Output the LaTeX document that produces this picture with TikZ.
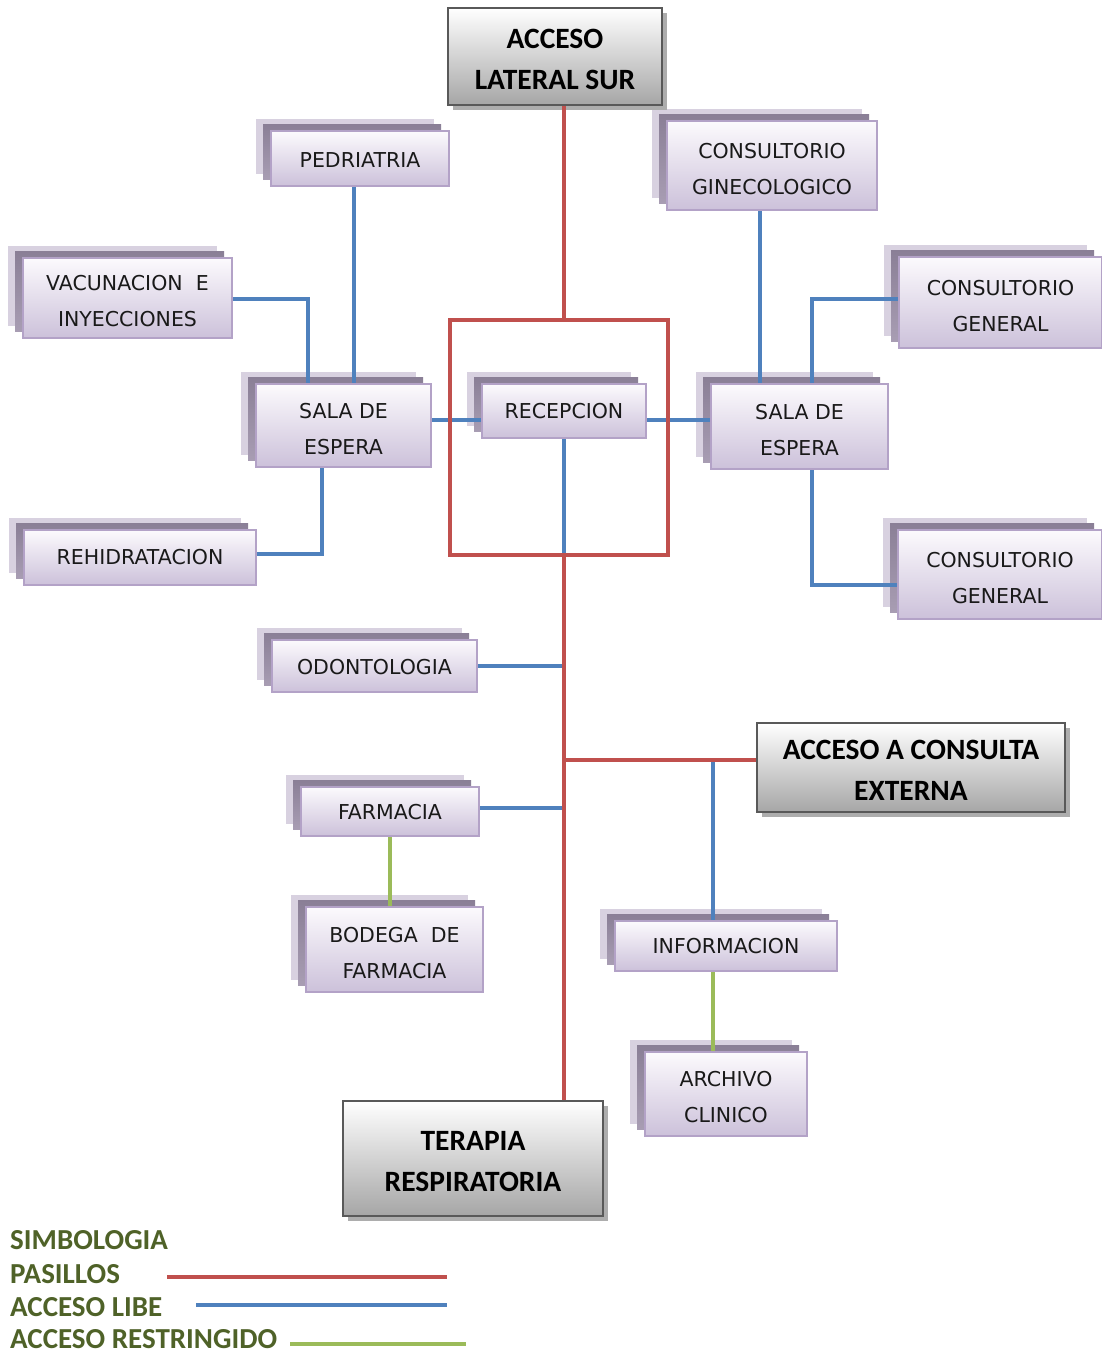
\documentclass[tikz,border=0pt]{standalone}
\usepackage{fontspec}
\setmainfont{DejaVu Sans}
\newfontfamily\calib{Carlito}
\usetikzlibrary{calc}
\pgfdeclarelayer{bgl}
\pgfdeclarelayer{shd}
\pgfdeclarelayer{ln}
\pgfsetlayers{bgl,shd,ln,main}

\definecolor{redln}{HTML}{C0504D}
\definecolor{blueln}{HTML}{4F81BD}
\definecolor{greenln}{HTML}{9BBB59}
\definecolor{pborder}{HTML}{B3A2C7}
\definecolor{ptop}{HTML}{FCFAFD}
\definecolor{pbot}{HTML}{CCC1DA}
\definecolor{shl}{HTML}{D8D1E0}
\definecolor{shdA}{HTML}{8A7F96}
\definecolor{shdB}{HTML}{A89DB3}
\definecolor{olive}{HTML}{4F6228}

\newcommand\ptop{\rule{0pt}{22pt}}
\newcommand\gtop{\rule{0pt}{25pt}}

\tikzset{
  pbox/.style={draw=pborder, line width=1.5pt, top color=ptop, bottom color=pbot,
    inner sep=0pt, align=center, font=\fontsize{20.5}{36}\selectfont, text=black!90},
  gbox/.style={draw=black!65, line width=2.5pt, top color=white, bottom color=black!35,
    inner sep=0pt, align=center, font=\calib\bfseries\fontsize{29.5}{41}\selectfont},
  pas/.style={draw=redln, line width=4pt},
  lib/.style={draw=blueln, line width=4pt},
  res/.style={draw=greenln, line width=4pt},
  legtext/.style={anchor=base west, inner sep=0pt, text=olive,
    font=\calib\bfseries\fontsize{29}{30}\selectfont},
}

\newcommand\mkpbox[6]{%
  \begin{pgfonlayer}{shd}
    \fill[shl] (#2-15,#3-12) rectangle (#4-15,#5-12);
    \fill[top color=shdA, bottom color=shdB] (#2-8,#3-7) rectangle (#4-8,#5-7);
  \end{pgfonlayer}
  \node[pbox, minimum width={(#4-#2)*1pt}, minimum height={(#5-#3)*1pt}] (#1)
    at ({(#2+#4)/2},{(#3+#5)/2}) {#6};
}
\newcommand\mkgbox[6]{%
  \begin{pgfonlayer}{shd}
    \fill[black!32] (#2+5,#3+5) rectangle (#4+5,#5+5);
  \end{pgfonlayer}
  \node[gbox, minimum width={(#4-#2)*1pt}, minimum height={(#5-#3)*1pt}] (#1)
    at ({(#2+#4)/2},{(#3+#5)/2}) {#6};
}

\begin{document}
\begin{tikzpicture}[x=1pt, y=-1pt]
\begin{pgfonlayer}{bgl}
  \fill[white] (0,0) rectangle (1101,1354);
\end{pgfonlayer}
\useasboundingbox (0,0) rectangle (1101,1354);

% purple boxes
\mkpbox{pedr}{271}{131}{449}{186}{\rule{0pt}{17pt}PEDRIATRIA}
\mkpbox{gine}{667}{121}{877}{210}{\ptop CONSULTORIO\\GINECOLOGICO}
\mkpbox{vac}{23}{258}{232}{338}{\ptop VACUNACION\ \ E\\INYECCIONES}
\mkpbox{cgA}{899}{257}{1102}{348}{\ptop CONSULTORIO\\GENERAL}
\mkpbox{salaL}{256}{384}{431}{467}{\ptop SALA DE\\ESPERA}
\mkpbox{recep}{482}{384}{646}{438}{RECEPCION}
\mkpbox{salaR}{711}{384}{888}{469}{\ptop SALA DE\\ESPERA}
\mkpbox{rehid}{24}{530}{256}{585}{REHIDRATACION}
\mkpbox{cgB}{898}{530}{1102}{619}{\ptop CONSULTORIO\\GENERAL}
\mkpbox{odon}{272}{640}{477}{692}{\rule{0pt}{17pt}ODONTOLOGIA}
\mkpbox{far}{301}{787}{479}{836}{\rule{0pt}{17pt}FARMACIA}
\mkpbox{bodega}{306}{907}{483}{992}{\ptop BODEGA\ \ DE\\FARMACIA}
\mkpbox{info}{615}{921}{837}{971}{INFORMACION}
\mkpbox{archivo}{645}{1052}{807}{1136}{\ptop ARCHIVO\\CLINICO}

% grey boxes
\mkgbox{acceso}{448}{8}{662}{105}{\gtop ACCESO\\LATERAL SUR}
\mkgbox{consulta}{757}{723}{1065}{812}{\gtop ACCESO A CONSULTA\\EXTERNA}
\mkgbox{terapia}{343}{1101}{603}{1216}{\gtop TERAPIA\\RESPIRATORIA}

% reception hall
\node[draw=redln, line width=4pt, minimum width=218pt, minimum height=235pt, inner sep=0pt]
  (hall) at (559,437.5) {};

% connectors
\coordinate (yL) at (0,420);
\coordinate (bL) at (322,554);
\coordinate (gx) at (760,0);
\coordinate (rt) at (812,299);
\coordinate (rb) at (812,585);
\coordinate (jA) at (563.5,760);
\coordinate (jB) at (713,761);
\begin{pgfonlayer}{ln}
  \draw[lib] ([xshift=-6pt]pedr.south) -- ([xshift=-6pt]pedr.south |- salaL.north);
  \draw[lib] ([yshift=-1pt]vac.east) -| ([xshift=-35.5pt]salaL.north);
  \draw[lib] (salaL.east |- yL) -- (recep.west |- yL);
  \draw[lib] (recep.east |- yL) -- (salaR.west |- yL);
  \draw[lib] (recep.south) -- (recep.south |- hall.south);
  \draw[lib] (bL |- salaL.south) -- (bL) -- (bL -| rehid.east);
  \draw[lib] (gx |- gine.south) -- (gx |- salaR.north);
  \draw[lib] (cgA.west |- rt) -- (rt) -- (rt |- salaR.north);
  \draw[lib] (rt |- salaR.south) -- (rb) -- (rb -| cgB.west);
  \draw[lib] (odon.east) -- (odon.east -| recep.south);
  \draw[lib] ([yshift=4pt]far.east) -- ([yshift=4pt]far.east -| recep.south);
  \draw[lib] (jB) -- (jB |- info.north);
  \draw[res] (far.south) -- (far.south |- bodega.north);
  \draw[res] (jB |- info.south) -- (jB |- archivo.north);
  \draw[pas] (recep.south |- acceso.south) -- (recep.south |- hall.north);
  \draw[pas] (recep.south |- hall.south) -- (recep.south |- terapia.north);
  \draw[pas] (jA) -- (jA -| consulta.west);
\end{pgfonlayer}

% legend
\node[legtext] (lgA) at (10,1249) {SIMBOLOGIA};
\node[legtext] (lgB) at (10,1283) {PASILLOS};
\node[legtext] (lgC) at (10,1316) {ACCESO LIBE};
\node[legtext] (lgD) at (10,1348) {ACCESO RESTRINGIDO};
\coordinate (lpA) at (167,1277);
\coordinate (lpB) at (447,1277);
\coordinate (llA) at (196,1305);
\coordinate (llB) at (447,1305);
\coordinate (lrA) at (290,1344);
\coordinate (lrB) at (466,1344);
\draw[pas] (lpA) -- (lpB);
\draw[lib] (llA) -- (llB);
\draw[res] (lrA) -- (lrB);
\end{tikzpicture}
\end{document}
